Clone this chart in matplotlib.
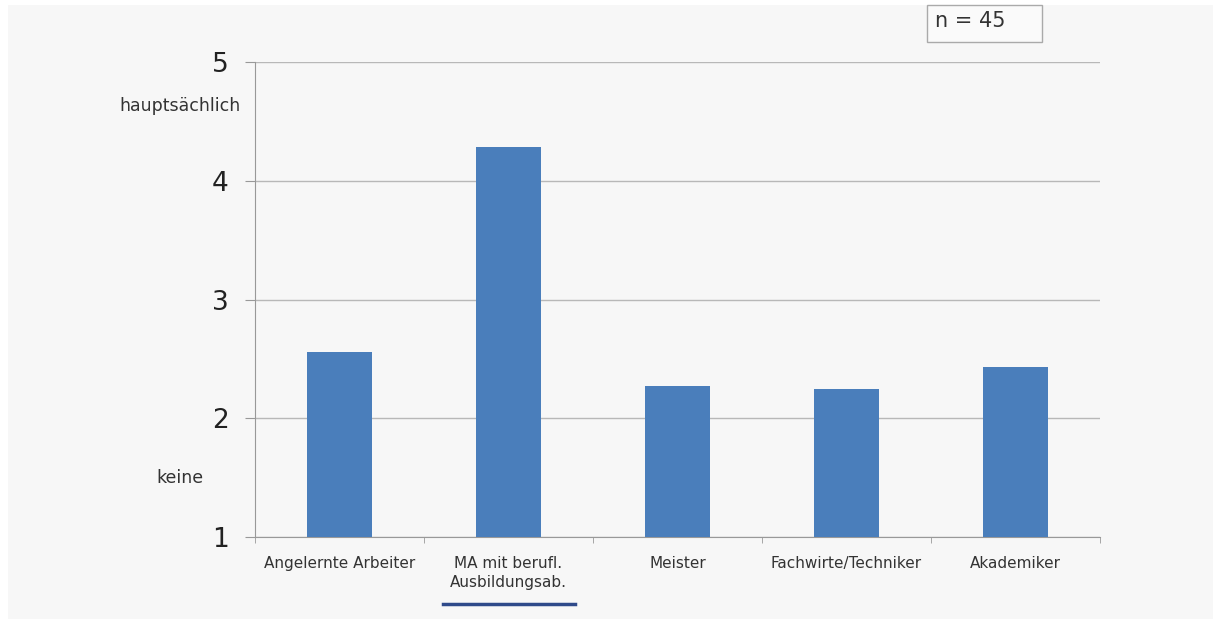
import matplotlib
matplotlib.use('Agg')
import matplotlib.pyplot as plt
from matplotlib.patches import Rectangle
import numpy as np

kategorien = ['Angelernte Arbeiter', 'MA mit berufl.\nAusbildungsab.', 'Meister',
              'Fachwirte/Techniker', 'Akademiker']
werte = [2.56, 4.28, 2.27, 2.25, 2.43]
y_ticks = [1, 2, 3, 4, 5]

plt.rcParams['font.family'] = ['DejaVu Sans']

fig = plt.figure(figsize=(12.13, 6.19), dpi=100, facecolor='white')
# grauer Hintergrund
fig.patches.append(Rectangle((8 / 1213, 0), 1, 1 - 5 / 619, transform=fig.transFigure,
                             facecolor='#f7f7f7', edgecolor='none', zorder=-10))

ax = fig.add_axes([255 / 1213, 1 - 537 / 619, 845 / 1213, 475 / 619])
ax.set_facecolor('none')

x = np.arange(len(kategorien))
ax.bar(x, [w - 1 for w in werte], bottom=1, width=0.39, color='#4a7ebb', zorder=3)

ax.set_xlim(-0.5, len(kategorien) - 0.5)
ax.set_ylim(1, 5)
ax.set_yticks(y_ticks)
ax.set_yticklabels([str(t) for t in y_ticks], fontsize=19, color='#222222')
ax.tick_params(axis='y', length=7, color='#999999', pad=12)
ax.yaxis.grid(True, color='#b8b8b8', linewidth=1)
ax.set_axisbelow(True)

ax.set_xticks(x)
ax.set_xticklabels(kategorien, fontsize=11, color='#333333', linespacing=1.3)
ax.tick_params(axis='x', length=0, pad=14)
ax.set_xticks(np.arange(-0.5, len(kategorien)), minor=True)
ax.tick_params(axis='x', which='minor', length=4, color='#999999')

for s in ['top', 'right']:
    ax.spines[s].set_visible(False)
ax.spines['left'].set_color('#999999')
ax.spines['bottom'].set_color('#999999')

fig.text(180 / 1213, 1 - 106 / 619, 'hauptsächlich', fontsize=12.5, color='#333333',
         ha='center', va='center')
fig.text(180 / 1213, 1 - 478 / 619, 'keine', fontsize=12.5, color='#333333',
         ha='center', va='center')

# Unterstreichung
fig.add_artist(plt.Line2D([443 / 1213, 575 / 1213], [1 - 604 / 619, 1 - 604 / 619],
                          color='#2f4a8a', linewidth=2.5))

# n-Box
fig.patches.append(Rectangle((927 / 1213, 1 - 42 / 619), 115 / 1213, 37 / 619,
                             transform=fig.transFigure, facecolor='#fafafa',
                             edgecolor='#aaaaaa', linewidth=1, zorder=2))
fig.text(935 / 1213, 1 - 21 / 619, 'n = 45', fontsize=15, color='#333333',
         ha='left', va='center')

fig.savefig('out.png', dpi=100, facecolor=fig.get_facecolor())
